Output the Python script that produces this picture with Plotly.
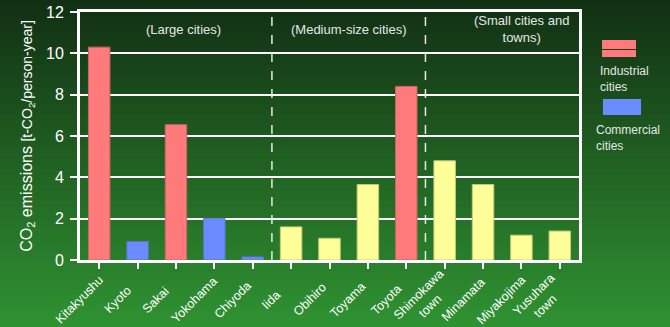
import plotly.graph_objects as go

# Per-capita CO2 emissions by city
cities = ["Kitakyushu", "Kyoto", "Sakai", "Yokohama", "Chiyoda", "Iida", "Obihiro",
          "Toyama", "Toyota", "Shimokawa<br>town", "Minamata", "Miyakojima", "Yusuhara<br>town"]
emissions = [10.3, 0.9, 6.55, 2.0, 0.15, 1.6, 1.05, 3.65, 8.4, 4.8, 3.65, 1.2, 1.4]
city_type = ["industrial", "commercial", "industrial", "commercial", "commercial", "other", "other",
             "other", "industrial", "other", "other", "other", "other"]
groups = ["(Large cities)", "(Medium-size cities)", "(Small cities and<br>towns)"]
group_centers = [2.2, 6.5, 11.0]
group_breaks = [4.5, 8.5]
y_ticks = [0, 2, 4, 6, 8, 10, 12]

palette = {"industrial": "#ff7b7b", "commercial": "#6b8cff", "other": "#ffff99"}
edge = {"industrial": "#c86464", "commercial": "#5a74d0", "other": "#c8c878"}

W, H = 670, 327
ML, MR, MT, MB = 80, 91, 12, 67
PW, PH = W - ML - MR, H - MT - MB

def px_x(x):
    return (x - ML) / PW

def px_y(y):
    return (H - MB - y) / PH

fig = go.Figure()
fig.add_trace(go.Bar(
    x=list(range(len(cities))), y=emissions, width=0.56,
    marker=dict(color=[palette[t] for t in city_type],
                line=dict(color=[edge[t] for t in city_type], width=1)),
    hoverinfo="y", showlegend=False,
))

shapes = []
# vertical green gradient background
top_c = (18, 48, 20)
bot_c = (47, 146, 49)
n = 60
for i in range(n):
    f = i / (n - 1)
    c = tuple(round(top_c[k] + (bot_c[k] - top_c[k]) * f) for k in range(3))
    y0 = H * i / n
    y1 = H * (i + 1) / n + 1
    shapes.append(dict(type="rect", xref="paper", yref="paper", layer="below",
                       x0=px_x(0), x1=px_x(W), y0=px_y(y1), y1=px_y(y0),
                       line=dict(width=0), fillcolor="rgb(%d,%d,%d)" % c))

# dashed separators between city size groups
for b in group_breaks:
    shapes.append(dict(type="line", xref="x", yref="y", x0=b, x1=b, y0=0, y1=12,
                       line=dict(color="#e8e8e8", width=1.5, dash="dash")))

# legend swatches
shapes += [
    dict(type="rect", xref="paper", yref="paper", x0=px_x(602), x1=px_x(636),
         y0=px_y(49), y1=px_y(40), fillcolor="#ff7b7b", line=dict(width=0)),
    dict(type="rect", xref="paper", yref="paper", x0=px_x(602), x1=px_x(636),
         y0=px_y(57), y1=px_y(50), fillcolor="#ff7b7b", line=dict(width=0)),
    dict(type="rect", xref="paper", yref="paper", x0=px_x(603), x1=px_x(641),
         y0=px_y(115), y1=px_y(99), fillcolor="#6b8cff", line=dict(width=0)),
]

annotations = []
for g, cx in zip(groups, group_centers):
    annotations.append(dict(x=cx, y=px_y(29), xref="x", yref="paper", text=g,
                            showarrow=False, font=dict(size=13, color="#e6e6e6"),
                            yanchor="middle", align="center"))

# rotated category labels, centred below each slot
for i, name in enumerate(cities):
    annotations.append(dict(x=i, y=px_y(300), xref="x", yref="paper", text=name,
                            xshift=-20, textangle=-45, showarrow=False,
                            xanchor="center", yanchor="middle", align="center",
                            font=dict(size=12.5, color="white")))

annotations += [
    dict(x=px_x(598), y=px_y(62), xref="paper", yref="paper", text="Industrial<br>cities",
         showarrow=False, xanchor="left", yanchor="top", align="left",
         font=dict(size=12, color="#e6e6e6")),
    dict(x=px_x(594), y=px_y(121), xref="paper", yref="paper", text="Commercial<br>cities",
         showarrow=False, xanchor="left", yanchor="top", align="left",
         font=dict(size=12, color="#e6e6e6")),
]

fig.update_layout(
    width=W, height=H,
    margin=dict(l=ML, r=MR, t=MT, b=MB),
    paper_bgcolor="#236b25", plot_bgcolor="rgba(0,0,0,0)",
    font=dict(family="Liberation Sans, Arial, sans-serif", color="white"),
    shapes=shapes, annotations=annotations,
    xaxis=dict(
        tickmode="array", tickvals=list(range(len(cities))), showticklabels=False,
        range=[-0.5, len(cities) - 0.5], automargin=False, tickson="boundaries",
        showgrid=False, showline=True, linecolor="white", linewidth=3, mirror=True,
        ticks="outside", ticklen=6, tickwidth=2, tickcolor="white", zeroline=False,
    ),
    yaxis=dict(
        range=[0, 12], tickvals=y_ticks, tickfont=dict(size=16, color="white"),
        automargin=False, ticklabelstandoff=3,
        showgrid=True, gridcolor="white", gridwidth=2,
        showline=True, linecolor="white", linewidth=3, mirror=True,
        ticks="outside", ticklen=7, tickwidth=2, tickcolor="white", zeroline=False,
        title=dict(text="CO<sub>2</sub> emissions <span style='font-size:14px'>[t-CO<sub>2</sub>/person-year]</span>",
                   font=dict(size=16, color="white"), standoff=10),
    ),
)

fig.write_html("out.html")
